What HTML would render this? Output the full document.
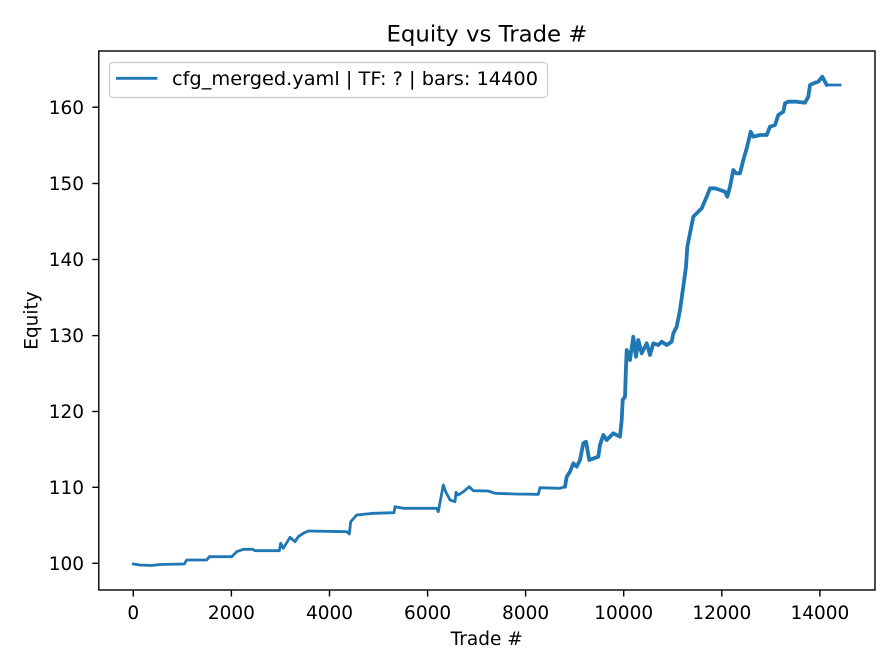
<!DOCTYPE html>
<html>
<head>
<meta charset="utf-8">
<style>
  html, body { margin: 0; padding: 0; background: #ffffff; }
  svg { display: block; }
  text { font-family: "DejaVu Sans", "Liberation Sans", sans-serif; fill: #000; }
</style>
</head>
<body>
<svg width="896" height="672" viewBox="0 0 896 672" xmlns="http://www.w3.org/2000/svg">
  <rect x="0" y="0" width="896" height="672" fill="#ffffff"/>

  <!-- Title -->
  <text x="487" y="41.7" font-size="22.5" text-anchor="middle" textLength="201" lengthAdjust="spacingAndGlyphs">Equity vs Trade #</text>

  <!-- Data line -->
  <polyline fill="none" stroke="#1f77b4" stroke-width="2.8" stroke-linejoin="round" stroke-linecap="square"
    points="133.3,564 140,565 151.7,565.5 160,564.5 184.3,564 186.7,560 206.7,560 209.3,556.7 231.7,556.7 236.7,551.7 243.3,549.3 252.7,549.3 255,550.7 279.3,550.7 280.7,543.3 283.3,548.3 290,537.3 295,541.7 298.3,536.7 303.3,533.3 308.3,531 346.7,531.7 349.3,534 350.7,521.7 356.7,515 373.3,513.3 394,512.7 395,506.7 403.3,508.3 436.7,508.3 438.3,511.7 443.3,485 445.7,491.7 450,500 455,501.7 456,492.3 458.3,495 463.3,491.7 469.3,486.7 473.3,490.7 488.3,491 495,493.3 515,494 538.3,494.3 540,487.7 560,488.3 565,486.7 566.7,476.7 570,471.7 573.3,463.3 576.7,466.7 580,460 583.3,443.3 586,441.7 589.3,460 598.3,456.7 600,445 603.3,435 606.7,440 613.3,433.3 620,436.7 621.7,420 622.7,400 625,396.7 626,366.7 626.7,350 628.3,353.3 630,360 633.3,336.7 636,356.7 638.3,340 641.7,353.3 646.7,343.3 650,355 653.3,343.3 658.3,345 661.7,341.7 666.7,345 671.7,341.7 673.3,333.3 676.7,326.7 680,310 683.3,286.7 686,266.7 687.3,246.7 690,233.3 693.3,216.7 696.7,213.3 701.7,208.3 706.7,196.7 710,188.3 715,188.3 720,190 725,191.7 727.3,196.7 730,186.7 733.3,170 736,173.3 740,173.3 743.3,160 746.7,148.3 750.7,131.7 753.3,136.7 760,135 766.7,135 770,126.7 775,125 778.3,115 783.3,111.7 785,103.3 788.3,101.7 796.7,101.7 805,102.7 808.3,96.7 810,85 815,82.7 818.3,81.7 822.3,76.7 826.7,85 840,85"/>
  <!-- thicker noisy section -->
  <polyline fill="none" stroke="#1f77b4" stroke-width="3.8" stroke-linejoin="round" stroke-linecap="round"
    points="565,486.7 566.7,476.7 570,471.7 573.3,463.3 576.7,466.7 580,460 583.3,443.3 586,441.7 589.3,460 598.3,456.7 600,445 603.3,435 606.7,440 613.3,433.3 620,436.7 621.7,420 622.7,400 625,396.7 626,366.7 626.7,350 628.3,353.3 630,360 633.3,336.7 636,356.7 638.3,340 641.7,353.3 646.7,343.3 650,355 653.3,343.3 658.3,345 661.7,341.7 666.7,345 671.7,341.7 673.3,333.3 676.7,326.7 680,310 683.3,286.7 686,266.7 687.3,246.7 690,233.3 693.3,216.7 696.7,213.3 701.7,208.3 706.7,196.7 710,188.3 715,188.3 720,190 725,191.7 727.3,196.7 730,186.7 733.3,170 736,173.3 740,173.3 743.3,160 746.7,148.3 750.7,131.7 753.3,136.7 760,135 766.7,135 770,126.7 775,125 778.3,115 783.3,111.7 785,103.3 788.3,101.7 796.7,101.7 805,102.7 808.3,96.7 810,85 815,82.7 818.3,81.7 822.3,76.7 826.7,85"/>

  <!-- Axes spines -->
  <rect x="98.8" y="51" width="776.2" height="539" fill="none" stroke="#000" stroke-width="1.4"/>

  <!-- X ticks -->
  <g stroke="#000" stroke-width="1.4">
    <line x1="133.3" y1="590" x2="133.3" y2="596.5"/>
    <line x1="231.4" y1="590" x2="231.4" y2="596.5"/>
    <line x1="329.5" y1="590" x2="329.5" y2="596.5"/>
    <line x1="427.6" y1="590" x2="427.6" y2="596.5"/>
    <line x1="525.6" y1="590" x2="525.6" y2="596.5"/>
    <line x1="623.7" y1="590" x2="623.7" y2="596.5"/>
    <line x1="721.8" y1="590" x2="721.8" y2="596.5"/>
    <line x1="819.9" y1="590" x2="819.9" y2="596.5"/>
  </g>
  <g font-size="18.5" text-anchor="middle">
    <text x="133.3" y="619">0</text>
    <text x="231.4" y="619">2000</text>
    <text x="329.5" y="619">4000</text>
    <text x="427.6" y="619">6000</text>
    <text x="525.6" y="619">8000</text>
    <text x="623.7" y="619">10000</text>
    <text x="721.8" y="619">12000</text>
    <text x="819.9" y="619">14000</text>
  </g>

  <!-- Y ticks -->
  <g stroke="#000" stroke-width="1.4">
    <line x1="92.3" y1="563.3" x2="98.8" y2="563.3"/>
    <line x1="92.3" y1="487.3" x2="98.8" y2="487.3"/>
    <line x1="92.3" y1="411.5" x2="98.8" y2="411.5"/>
    <line x1="92.3" y1="335.6" x2="98.8" y2="335.6"/>
    <line x1="92.3" y1="259.5" x2="98.8" y2="259.5"/>
    <line x1="92.3" y1="183.5" x2="98.8" y2="183.5"/>
    <line x1="92.3" y1="107.2" x2="98.8" y2="107.2"/>
  </g>
  <g font-size="18.5" text-anchor="end">
    <text x="84" y="569.9">100</text>
    <text x="84" y="493.9">110</text>
    <text x="84" y="418.1">120</text>
    <text x="84" y="342.2">130</text>
    <text x="84" y="266.1">140</text>
    <text x="84" y="190.1">150</text>
    <text x="84" y="113.8">160</text>
  </g>

  <!-- Axis labels -->
  <text x="486.7" y="645" font-size="18.5" text-anchor="middle">Trade #</text>
  <text x="0" y="0" font-size="18.5" text-anchor="middle" transform="translate(37.3,320.5) rotate(-90)">Equity</text>

  <!-- Legend -->
  <rect x="109.5" y="62.5" width="438" height="35" rx="3.5" ry="3.5" fill="#ffffff" fill-opacity="0.8" stroke="#cccccc" stroke-width="1.2"/>
  <line x1="116" y1="78.3" x2="157.3" y2="78.3" stroke="#1f77b4" stroke-width="2.8"/>
  <text x="172" y="85" font-size="19" textLength="366" lengthAdjust="spacingAndGlyphs">cfg_merged.yaml | TF: ? | bars: 14400</text>
</svg>
</body>
</html>
